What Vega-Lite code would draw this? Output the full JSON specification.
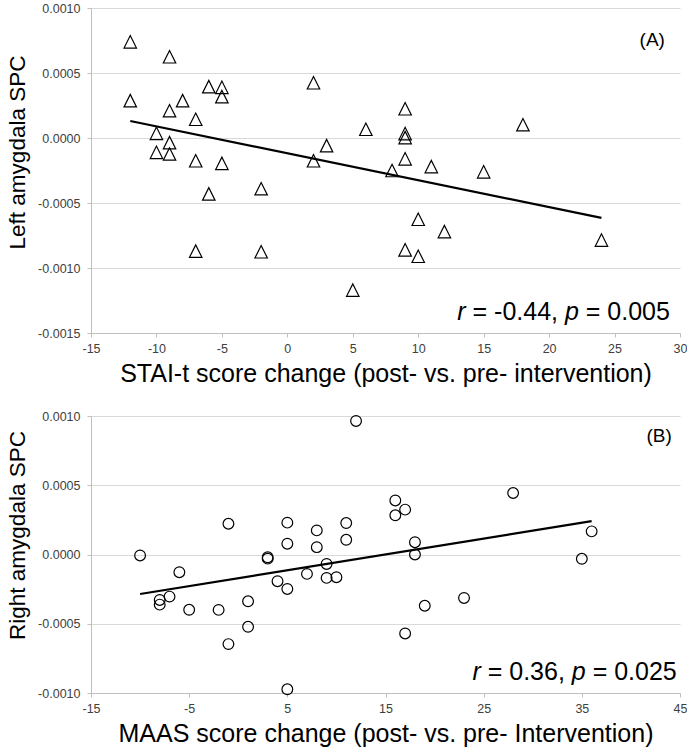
{
  "$schema": "https://vega.github.io/schema/vega-lite/v6.json",
  "padding": {"left": 6, "top": 2, "right": 0, "bottom": 0},
  "spacing": 23,
  "datasets": {
    "stai": [
      {"score_change": -12, "spc": 0.00074},
      {"score_change": -12, "spc": 0.000287},
      {"score_change": -9, "spc": 0.000625},
      {"score_change": -9, "spc": 0.00021},
      {"score_change": -10, "spc": 0.000036},
      {"score_change": -9, "spc": -0.000036},
      {"score_change": -10, "spc": -0.00011},
      {"score_change": -9, "spc": -0.000123},
      {"score_change": -8, "spc": 0.000287},
      {"score_change": -7, "spc": 0.000144},
      {"score_change": -7, "spc": -0.000175},
      {"score_change": -6, "spc": 0.000395},
      {"score_change": -5, "spc": 0.00039},
      {"score_change": -5, "spc": 0.000318},
      {"score_change": -5, "spc": -0.000195},
      {"score_change": -6, "spc": -0.00043},
      {"score_change": -2, "spc": -0.00039},
      {"score_change": 2, "spc": 0.000425},
      {"score_change": 2, "spc": -0.000175},
      {"score_change": 3, "spc": -0.000059},
      {"score_change": 6, "spc": 0.000067},
      {"score_change": 8, "spc": -0.00025},
      {"score_change": 9, "spc": 0.000225},
      {"score_change": 9, "spc": 0.000034},
      {"score_change": 9, "spc": 0.000003},
      {"score_change": 9, "spc": -0.00016},
      {"score_change": 11, "spc": -0.00022},
      {"score_change": 15, "spc": -0.00026},
      {"score_change": 18, "spc": 0.000102},
      {"score_change": -7, "spc": -0.00087},
      {"score_change": -2, "spc": -0.000875},
      {"score_change": 10, "spc": -0.000625},
      {"score_change": 12, "spc": -0.00072},
      {"score_change": 9, "spc": -0.00086},
      {"score_change": 10, "spc": -0.00091},
      {"score_change": 5, "spc": -0.00117},
      {"score_change": 24, "spc": -0.000785}
    ],
    "stai_fit": [
      {"score_change": -12, "spc": 0.000131},
      {"score_change": 24, "spc": -0.000615}
    ],
    "maas": [
      {"score_change": 12, "spc": 0.000964},
      {"score_change": 28, "spc": 0.000444},
      {"score_change": 16, "spc": 0.00039},
      {"score_change": 16, "spc": 0.000283},
      {"score_change": 17, "spc": 0.000324},
      {"score_change": -1, "spc": 0.000222},
      {"score_change": 5, "spc": 0.00023},
      {"score_change": 5, "spc": 0.000078},
      {"score_change": 8, "spc": 0.000174},
      {"score_change": 8, "spc": 0.000053},
      {"score_change": 11, "spc": 0.000227},
      {"score_change": 11, "spc": 0.000106},
      {"score_change": 18, "spc": 0.000089},
      {"score_change": 18, "spc": 0.0},
      {"score_change": 36, "spc": 0.000167},
      {"score_change": 35, "spc": -0.000031},
      {"score_change": -10, "spc": -0.000007},
      {"score_change": 3, "spc": -0.00002},
      {"score_change": 3, "spc": -0.00003},
      {"score_change": -6, "spc": -0.000128},
      {"score_change": 9, "spc": -0.000068},
      {"score_change": 7, "spc": -0.00014},
      {"score_change": 9, "spc": -0.000169},
      {"score_change": 10, "spc": -0.000164},
      {"score_change": 4, "spc": -0.000193},
      {"score_change": 5, "spc": -0.000249},
      {"score_change": -7, "spc": -0.000304},
      {"score_change": -8, "spc": -0.000328},
      {"score_change": -8, "spc": -0.000362},
      {"score_change": -5, "spc": -0.000399},
      {"score_change": -2, "spc": -0.0004},
      {"score_change": 1, "spc": -0.000338},
      {"score_change": 1, "spc": -0.000522},
      {"score_change": -1, "spc": -0.000647},
      {"score_change": 5, "spc": -0.000973},
      {"score_change": 17, "spc": -0.00057},
      {"score_change": 19, "spc": -0.00037},
      {"score_change": 23, "spc": -0.000314}
    ],
    "maas_fit": [
      {"score_change": -10, "spc": -0.000285},
      {"score_change": 36, "spc": 0.000241}
    ],
    "panel_a": [{"panel": "(A)"}],
    "panel_b": [{"panel": "(B)"}]
  },
  "vconcat": [
    {
      "width": 589,
      "height": 325,
      "layer": [
        {
          "data": {"name": "stai"},
          "mark": {"type": "point", "shape": "M-1,1H1L0,-1Z", "size": 155, "filled": false, "color": "#000000", "strokeWidth": 1.2, "opacity": 1},
          "encoding": {
            "x": {
              "field": "score_change", "type": "quantitative",
              "scale": {"domain": [-15, 30], "nice": false, "zero": false},
              "axis": {
                "title": "STAI-t score change (post- vs. pre- intervention)",
                "values": [-15, -10, -5, 0, 5, 10, 15, 20, 25, 30],
                "labelExpr": "replace(format(datum.value, 'd'), '\u2212', '-')"
              }
            },
            "y": {
              "field": "spc", "type": "quantitative",
              "scale": {"domain": [-0.0015, 0.001], "nice": false, "zero": false},
              "axis": {
                "title": "Left amygdala SPC",
                "titleY": 144,
                "values": [-0.0015, -0.001, -0.0005, 0, 0.0005, 0.001],
                "labelExpr": "replace(format(datum.value, '.4f'), '\u2212', '-')"
              }
            }
          }
        },
        {
          "data": {"name": "stai_fit"},
          "mark": {"type": "line", "color": "#000000", "strokeWidth": 2.2},
          "encoding": {
            "x": {"field": "score_change", "type": "quantitative"},
            "y": {"field": "spc", "type": "quantitative"}
          }
        },
        {
          "data": {"name": "panel_a"},
          "mark": {"type": "text", "align": "right", "baseline": "middle", "fontSize": 19, "color": "#000000"},
          "encoding": {
            "x": {"datum": 28.85, "type": "quantitative"},
            "y": {"datum": 0.000754, "type": "quantitative"},
            "text": {"field": "panel"}
          }
        },
        {
          "data": {"name": "panel_a"},
          "mark": {"type": "text", "align": "right", "baseline": "alphabetic", "fontSize": 25, "fontStyle": "italic", "color": "#000000", "text": "r", "dx": -204.3},
          "encoding": {
            "x": {"datum": 29.23, "type": "quantitative"},
            "y": {"datum": -0.0014, "type": "quantitative"}
          }
        },
        {
          "data": {"name": "panel_a"},
          "mark": {"type": "text", "align": "right", "baseline": "alphabetic", "fontSize": 25, "color": "#000000", "text": "= -0.44,", "dx": -111.9},
          "encoding": {
            "x": {"datum": 29.23, "type": "quantitative"},
            "y": {"datum": -0.0014, "type": "quantitative"}
          }
        },
        {
          "data": {"name": "panel_a"},
          "mark": {"type": "text", "align": "right", "baseline": "alphabetic", "fontSize": 25, "fontStyle": "italic", "color": "#000000", "text": "p", "dx": -91.05},
          "encoding": {
            "x": {"datum": 29.23, "type": "quantitative"},
            "y": {"datum": -0.0014, "type": "quantitative"}
          }
        },
        {
          "data": {"name": "panel_a"},
          "mark": {"type": "text", "align": "right", "baseline": "alphabetic", "fontSize": 25, "color": "#000000", "text": "= 0.005", "dx": 0},
          "encoding": {
            "x": {"datum": 29.23, "type": "quantitative"},
            "y": {"datum": -0.0014, "type": "quantitative"}
          }
        }
      ]
    },
    {
      "width": 589,
      "height": 277,
      "layer": [
        {
          "data": {"name": "maas"},
          "mark": {"type": "point", "shape": "circle", "size": 115, "filled": false, "color": "#000000", "strokeWidth": 1.2, "opacity": 1},
          "encoding": {
            "x": {
              "field": "score_change", "type": "quantitative",
              "scale": {"domain": [-15, 45], "nice": false, "zero": false},
              "axis": {
                "title": "MAAS score change (post- vs. pre- Intervention)",
                "values": [-15, -5, 5, 15, 25, 35, 45],
                "labelExpr": "replace(format(datum.value, 'd'), '\u2212', '-')"
              }
            },
            "y": {
              "field": "spc", "type": "quantitative",
              "scale": {"domain": [-0.001, 0.001], "nice": false, "zero": false},
              "axis": {
                "title": "Right amygdala SPC",
                "titleY": 119,
                "values": [-0.001, -0.0005, 0, 0.0005, 0.001],
                "labelExpr": "replace(format(datum.value, '.4f'), '\u2212', '-')"
              }
            }
          }
        },
        {
          "data": {"name": "maas_fit"},
          "mark": {"type": "line", "color": "#000000", "strokeWidth": 2.2},
          "encoding": {
            "x": {"field": "score_change", "type": "quantitative"},
            "y": {"field": "spc", "type": "quantitative"}
          }
        },
        {
          "data": {"name": "panel_b"},
          "mark": {"type": "text", "align": "right", "baseline": "middle", "fontSize": 19, "color": "#000000"},
          "encoding": {
            "x": {"datum": 44.17, "type": "quantitative"},
            "y": {"datum": 0.000852, "type": "quantitative"},
            "text": {"field": "panel"}
          }
        },
        {
          "data": {"name": "panel_b"},
          "mark": {"type": "text", "align": "right", "baseline": "alphabetic", "fontSize": 25, "fontStyle": "italic", "color": "#000000", "text": "r", "dx": -196.0},
          "encoding": {
            "x": {"datum": 44.67, "type": "quantitative"},
            "y": {"datum": -0.000906, "type": "quantitative"}
          }
        },
        {
          "data": {"name": "panel_b"},
          "mark": {"type": "text", "align": "right", "baseline": "alphabetic", "fontSize": 25, "color": "#000000", "text": "= 0.36,", "dx": -111.9},
          "encoding": {
            "x": {"datum": 44.67, "type": "quantitative"},
            "y": {"datum": -0.000906, "type": "quantitative"}
          }
        },
        {
          "data": {"name": "panel_b"},
          "mark": {"type": "text", "align": "right", "baseline": "alphabetic", "fontSize": 25, "fontStyle": "italic", "color": "#000000", "text": "p", "dx": -91.05},
          "encoding": {
            "x": {"datum": 44.67, "type": "quantitative"},
            "y": {"datum": -0.000906, "type": "quantitative"}
          }
        },
        {
          "data": {"name": "panel_b"},
          "mark": {"type": "text", "align": "right", "baseline": "alphabetic", "fontSize": 25, "color": "#000000", "text": "= 0.025", "dx": 0},
          "encoding": {
            "x": {"datum": 44.67, "type": "quantitative"},
            "y": {"datum": -0.000906, "type": "quantitative"}
          }
        }
      ]
    }
  ],
  "config": {
    "font": "Liberation Sans",
    "view": {"stroke": null},
    "text": {"font": "Liberation Sans"},
    "axis": {
      "domainColor": "#bfbfbf",
      "tickColor": "#bfbfbf",
      "gridColor": "#d9d9d9",
      "labelColor": "#404040",
      "labelFont": "Liberation Sans",
      "labelFontSize": 12.5,
      "titleFont": "Liberation Sans",
      "titleFontWeight": "normal",
      "titleColor": "#000000",
      "tickSize": 4,
      "domainWidth": 1,
      "gridWidth": 1,
      "labelOverlap": false,
      "labelFlush": false
    },
    "axisX": {"grid": false, "labelPadding": 5, "titleFontSize": 25, "titlePadding": 7},
    "axisY": {"grid": true, "labelPadding": 7, "titleFontSize": 22.5, "titlePadding": 8}
  }
}
